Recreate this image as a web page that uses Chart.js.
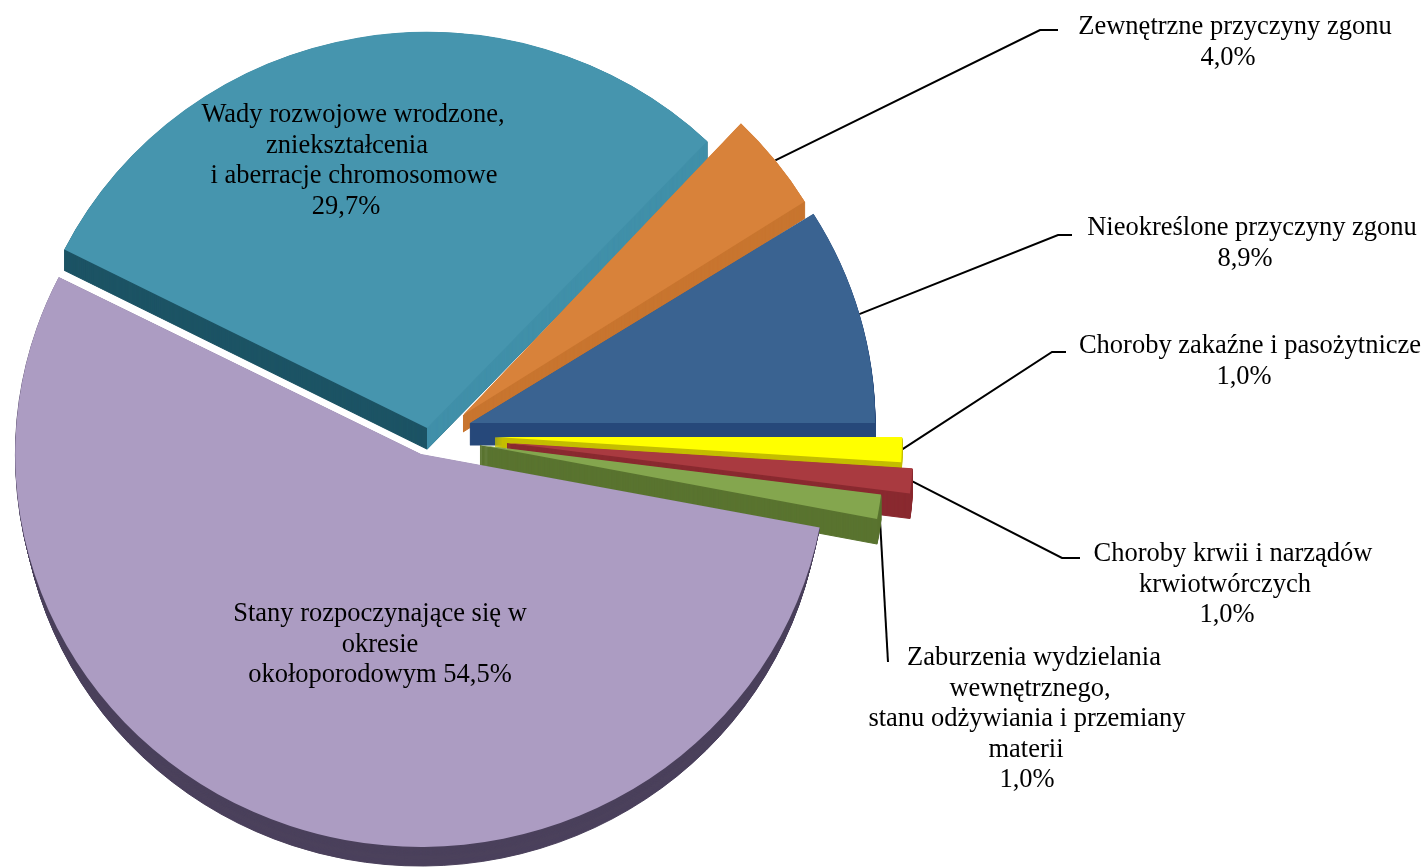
<!DOCTYPE html>
<html lang="pl">
<head>
<meta charset="utf-8">
<style>html,body{margin:0;padding:0;background:#fff;overflow:hidden}#w{width:1428px;height:867px}</style>
<script src="https://cdn.jsdelivr.net/npm/chart.js@4"></script>
</head>
<body>
<div id="w"><canvas id="c" width="1428" height="867"></canvas></div>
<script>
// Data
const categories = [
  "Choroby zakaźne i pasożytnicze",
  "Choroby krwii i narządów krwiotwórczych",
  "Zaburzenia wydzielania wewnętrznego, stanu odżywiania i przemiany materii",
  "Stany rozpoczynające się w okresie okołoporodowym",
  "Wady rozwojowe wrodzone, zniekształcenia i aberracje chromosomowe",
  "Zewnętrzne przyczyny zgonu",
  "Nieokreślone przyczyny zgonu"
];
const values = [1.0, 1.0, 1.0, 54.5, 29.7, 4.0, 8.9];
const labelLines = [
  ["Choroby zakaźne i pasożytnicze", "1,0%"],
  ["Choroby krwii i narządów", "krwiotwórczych", "1,0%"],
  ["Zaburzenia wydzielania", "wewnętrznego,", "stanu odżywiania i przemiany", "materii", "1,0%"],
  ["Stany rozpoczynające się w", "okresie", "okołoporodowym 54,5%"],
  ["Wady rozwojowe wrodzone,", "zniekształcenia", "i aberracje chromosomowe", "29,7%"],
  ["Zewnętrzne przyczyny zgonu", "4,0%"],
  ["Nieokreślone przyczyny zgonu", "8,9%"]
];

// Styles
const topColors  = ["#FFFF00", "#A93A40", "#84A64E", "#AC9CC2", "#4695AE", "#D8823A", "#3A6391"];
const sideColors = ["#C4BE00", "#8A2A30", "#5A7430", "#4B415C", "#1D5465", "#C8752F", "#27487A"];
// Layout of each exploded wedge: where its tip sits, its scale and its thickness
const wedgeLayout = [
  {x:495, y:437, sx:1.01,  sy:1.0,   depth:10},
  {x:507, y:443, sx:1.008, sy:1.0,   depth:25},
  {x:480, y:445, sx:1.003, sy:0.98,  depth:25},
  {x:421, y:454, sx:1.007, sy:0.975, depth:25, taper:0.015},
  {x:427, y:428, sx:1.008, sy:0.983, depth:21, rightFace:"#4190A9"},
  {x:463, y:415, sx:1.0,   sy:1.0,   depth:17},
  {x:470, y:423, sx:1.005, sy:0.98,  depth:22}
];
const drawOrder = [4, 5, 6, 0, 1, 2, 3];
const labelLayout = [
  {x:1250, y:346, dx:[0,-6]},
  {x:1233, y:554, dx:[0,-8,-6]},
  {x:1028, y:658, dx:[6,2,-1,-2,-1]},
  {x:380,  y:614, dx:[0,0,0]},
  {x:353,  y:115, dx:[0,-6,1,-7]},
  {x:1235, y:27,  dx:[0,-7]},
  {x:1252, y:228, dx:[0,-7]}
];
const lineHeight = 30.6;
const leaders = [
  {idx:0, pts:[[1052,352],[1066,352]]},
  {idx:1, pts:[[1062,558],[1080,558]]},
  {idx:2, pts:[[888,662]]},
  {idx:5, pts:[[1040,30],[1058,30]]},
  {idx:6, pts:[[1058,235],[1072,235]]}
];

const pie3d = {
  id: 'pie3d',
  beforeDatasetDraw(chart) {
    const ctx = chart.ctx;
    const arcs = chart.getDatasetMeta(0).data;
    // Leader lines run underneath the wedges, from the middle of each wedge's rim
    ctx.save();
    ctx.strokeStyle = '#000';
    ctx.lineWidth = 2;
    leaders.forEach(l => {
      const arc = arcs[l.idx], w = wedgeLayout[l.idx];
      const mid = (arc.startAngle + arc.endAngle) / 2;
      ctx.beginPath();
      ctx.moveTo(w.x + Math.cos(mid) * arc.outerRadius * w.sx, w.y + Math.sin(mid) * arc.outerRadius * w.sy);
      l.pts.forEach(p => ctx.lineTo(p[0], p[1]));
      ctx.stroke();
    });
    ctx.restore();

    const place = (arc, w, d, t) => {
      ctx.translate(w.x, w.y + d);
      ctx.scale(w.sx * (1 - t), w.sy * (1 - t));
      ctx.translate(-arc.x, -arc.y);
    };
    const extrude = (arc, w, color) => {
      const base = arc.options;
      arc.options = Object.assign({}, base, {backgroundColor: color, borderColor: color, borderWidth: 1});
      for (let d = w.depth; d > 0; d--) {
        ctx.save();
        place(arc, w, d, (w.taper || 0) * d / w.depth);
        arc.draw(ctx);
        ctx.restore();
      }
      arc.options = base;
    };
    drawOrder.forEach(i => {
      const arc = arcs[i], w = wedgeLayout[i];
      extrude(arc, w, sideColors[i]);
      if (w.rightFace) {
        ctx.save();
        ctx.beginPath();
        ctx.rect(w.x, 0, chart.width - w.x, chart.height);
        ctx.clip();
        extrude(arc, w, w.rightFace);
        ctx.restore();
      }
      ctx.save();
      place(arc, w, 0, 0);
      arc.draw(ctx);
      ctx.restore();
    });
    return false;
  },
  afterDatasetsDraw(chart) {
    const ctx = chart.ctx;
    ctx.save();
    ctx.fillStyle = '#000';
    ctx.font = '26.5px "Liberation Serif"';
    ctx.textAlign = 'center';
    ctx.textBaseline = 'middle';
    labelLines.forEach((lines, i) => {
      const p = labelLayout[i];
      lines.forEach((t, j) => ctx.fillText(t, p.x + p.dx[j], p.y + j * lineHeight));
    });
    ctx.restore();
  }
};

new Chart(document.getElementById('c'), {
  type: 'pie',
  data: {
    labels: categories,
    datasets: [{data: values, backgroundColor: topColors, borderWidth: 0}]
  },
  options: {
    responsive: false,
    animation: false,
    rotation: 90,
    radius: 403,
    layout: {padding: 0},
    plugins: {legend: {display: false}, tooltip: {enabled: false}}
  },
  plugins: [pie3d]
});
</script>
</body>
</html>
